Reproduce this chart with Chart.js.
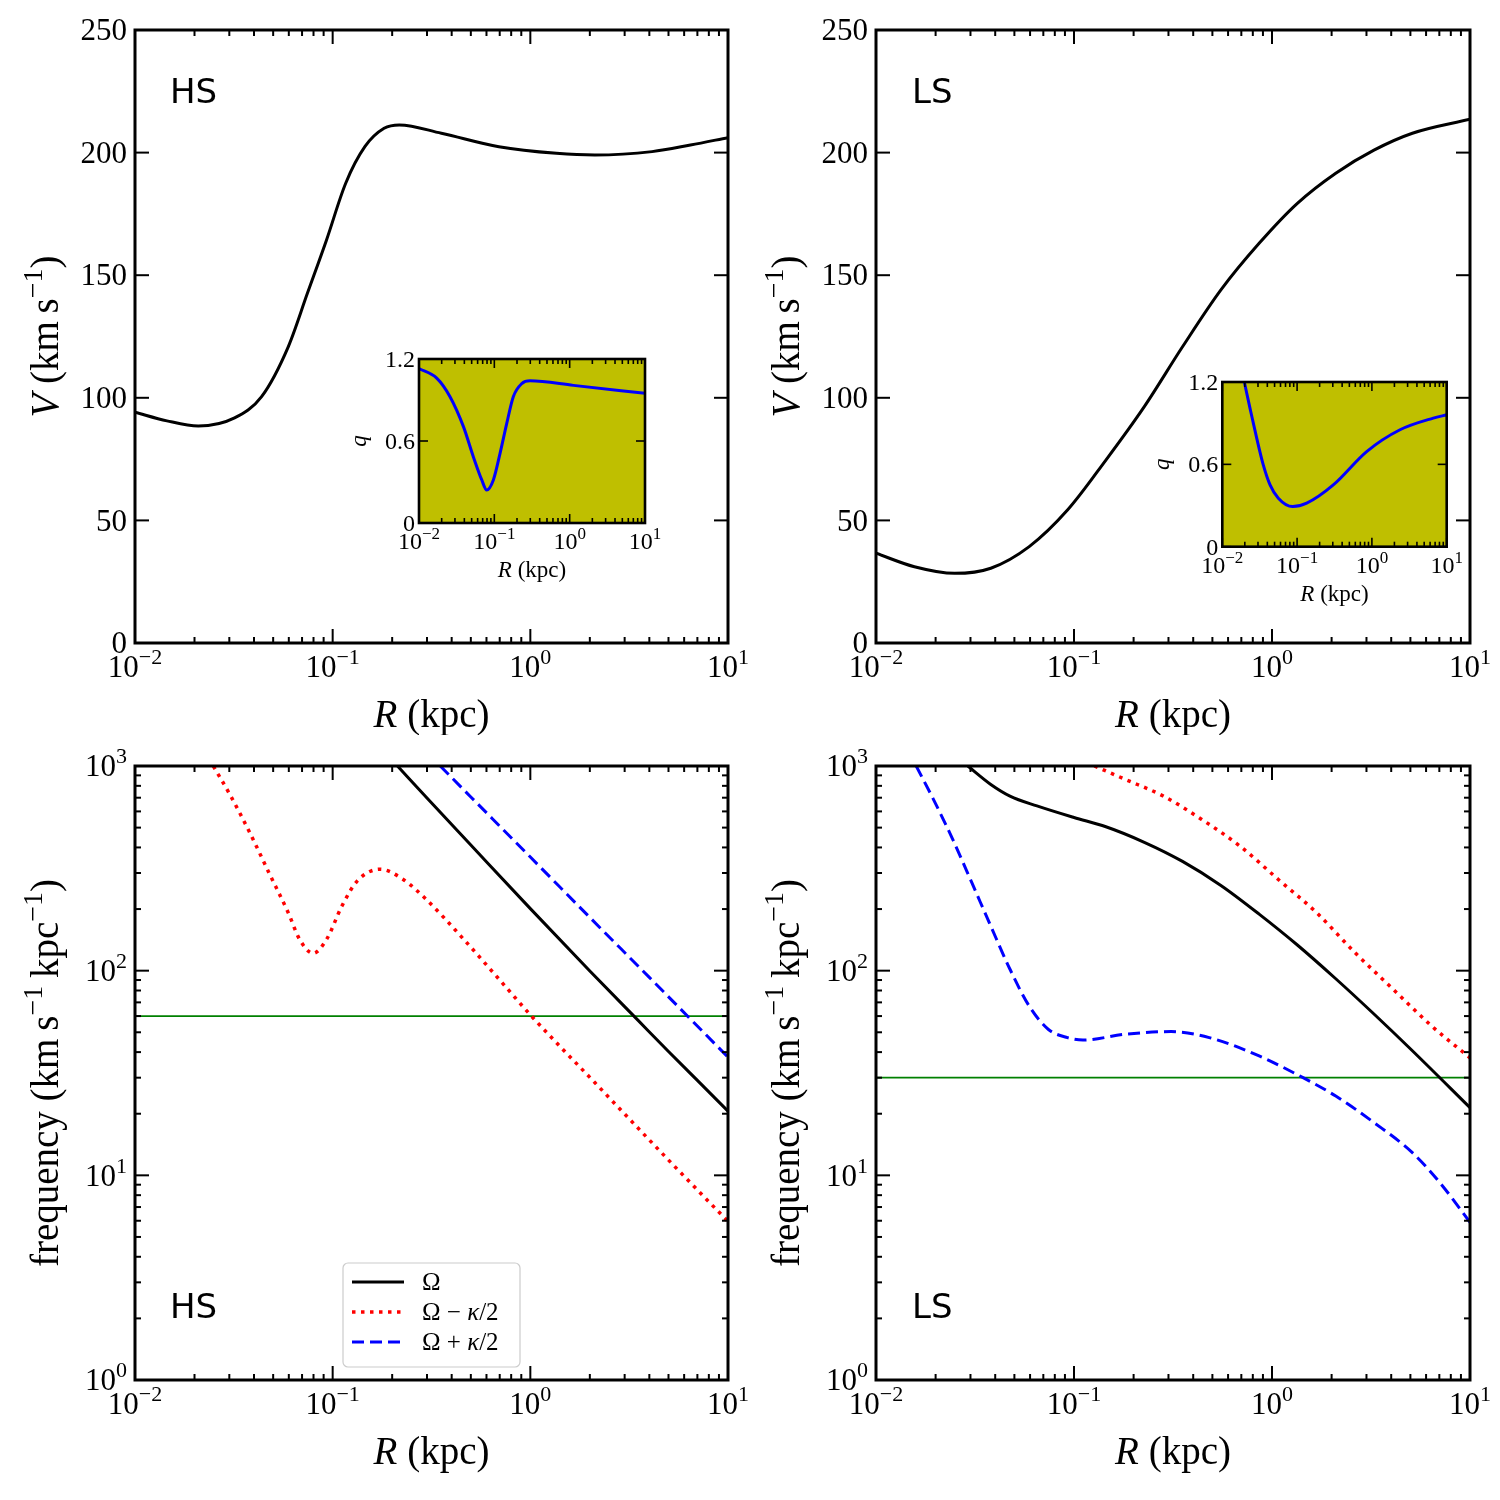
<!DOCTYPE html>
<html><head><meta charset="utf-8">
<script src="https://cdn.jsdelivr.net/npm/chart.js@4/dist/chart.umd.min.js"></script>
<style>
html,body{margin:0;padding:0;background:#fff;}
#wrap{position:relative;width:1500px;height:1500px;overflow:hidden;background:#fff;}
canvas{position:absolute;}
</style></head><body>
<div id="wrap">
<canvas id="c1" width="760" height="735" style="left:0px;top:0px"></canvas>
<canvas id="c2" width="740" height="735" style="left:760px;top:0px"></canvas>
<canvas id="c3" width="760" height="765" style="left:0px;top:735px"></canvas>
<canvas id="c4" width="740" height="765" style="left:760px;top:735px"></canvas>
<canvas id="i1" width="330" height="250" style="left:350px;top:345px"></canvas>
<canvas id="i2" width="330" height="250" style="left:1152px;top:368px"></canvas>
</div>
<script>
// ---------------- tick labels ('^' marks a superscript) ----------------
const R_TICKS = [0.01, 0.1, 1, 10];
const R_TICK_LABELS = ['10^\u22122', '10^\u22121', '10^0', '10^1'];
const V_TICKS = [0, 50, 100, 150, 200, 250];
const V_TICK_LABELS = ['0', '50', '100', '150', '200', '250'];
const F_TICKS = [1, 10, 100, 1000];
const F_TICK_LABELS = ['10^0', '10^1', '10^2', '10^3'];
const Q_TICKS = [0, 0.6, 1.2];
const Q_TICK_LABELS = ['0', '0.6', '1.2'];
const PANEL_LABELS = ['HS', 'LS'];

// ---------------- HS rotation curve ----------------
const R_HS_V = [0.01, 0.0145, 0.0209, 0.0319, 0.0437, 0.0596, 0.0745, 0.0931, 0.1164, 0.1455, 0.182, 0.2173, 0.3548, 0.6934, 1.355, 2.118, 4.13, 6.457, 10];
const V_HS   = [94.1, 90.6, 88.5, 91.8, 100.5, 120.8, 142.6, 164.4, 187.5, 202.4, 209.9, 211.3, 207.9, 202.4, 199.7, 199.0, 200.4, 203.1, 206.1];
// ---------------- LS rotation curve ----------------
const R_LS_V = [0.01, 0.01563, 0.02495, 0.038, 0.0594, 0.0927, 0.1449, 0.2265, 0.3532, 0.552, 0.861, 1.343, 2.099, 3.273, 5.117, 10];
const V_LS   = [36.6, 31.1, 28.4, 30.5, 39.3, 54.2, 74.6, 96.4, 120.8, 144, 163, 179.3, 191.6, 201, 207.9, 213.6];

// ---------------- HS inset q ----------------
const R_HS_Q = [0.01, 0.01718, 0.0258, 0.0389, 0.0526, 0.0681, 0.0793, 0.0971, 0.1191, 0.1462, 0.1786, 0.2312, 0.2979, 1.122, 10];
const Q_HS   = [1.13, 1.06, 0.924, 0.705, 0.485, 0.315, 0.241, 0.315, 0.51, 0.729, 0.924, 1.02, 1.04, 1.007, 0.949];
// ---------------- LS inset q ----------------
const R_LS_Q = [0.0197, 0.02344, 0.02884, 0.0353, 0.0435, 0.0561, 0.0873, 0.1343, 0.3048, 0.851, 2.377, 6.622, 10];
const Q_LS   = [1.2, 1.01, 0.791, 0.596, 0.45, 0.353, 0.292, 0.317, 0.45, 0.693, 0.852, 0.937, 0.961];

// ---------------- HS frequencies ----------------
const R_HS_OM = [0.2128, 0.3, 0.5, 1, 2, 3.5, 5, 7, 10];
const OM_HS   = [1000, 697, 411, 201, 99.6, 57.3, 40.3, 29.1, 20.6];
const R_HS_LO = [0.0249, 0.0305, 0.0381, 0.0476, 0.0596, 0.0681, 0.0796, 0.0931, 0.1114, 0.133, 0.1738, 0.2275, 0.2972, 0.4436, 0.6934, 1.005, 2.118, 5.164, 10];
const LO_HS   = [1000, 713, 472, 301, 192, 142, 121.6, 142, 207, 274, 313, 279, 223, 148, 91, 60.5, 28.4, 11.5, 5.95];
const R_HS_HI = [0.35, 0.5, 1, 2, 4, 10];
const HI_HS   = [1000, 706, 359, 182, 92.7, 37.8];
// ---------------- LS frequencies ----------------
const R_LS_OM = [0.0291, 0.038, 0.0475, 0.065, 0.1, 0.1449, 0.2265, 0.3532, 0.552, 0.861, 1.343, 2.099, 3.273, 5.117, 10];
const OM_LS   = [1000, 813, 713, 638, 560, 505, 424, 342, 261, 189, 133.5, 91.3, 61.4, 40.6, 21.4];
const R_LS_LO = [0.1268, 0.1811, 0.2825, 0.4416, 0.6887, 1.076, 1.679, 2.624, 4.093, 6.397, 10];
const LO_LS   = [1000, 861, 713, 548, 406, 279, 192, 122.5, 81.1, 53.7, 37.5];
const R_LS_HI = [0.01596, 0.0195, 0.02438, 0.03048, 0.038, 0.0475, 0.0594, 0.0743, 0.0927, 0.1109, 0.1811, 0.309, 0.482, 0.861, 1.435, 2.099, 3.273, 5.117, 7.05, 10];
const HI_LS   = [1000, 687, 439, 269, 165, 101.6, 67.1, 51.6, 47.1, 45.8, 48.9, 50.4, 47.1, 38.3, 30, 24.4, 18.1, 12.9, 9.2, 5.9];
// ---------------- pattern speed lines ----------------
const R_FLAT = [0.01, 10];
const FLAT_HS = [60, 60];
const FLAT_LS = [30, 30];

const SERIF = '"Liberation Serif", "DejaVu Serif", serif';
const SANS = '"DejaVu Sans", sans-serif';

function parseLabel(str) {
  const i = String(str).indexOf('^');
  if (i < 0) return [[String(str), 'n']];
  return [[str.slice(0, i), 'n'], [str.slice(i + 1), 's']];
}

// segs: [text, style]; style 'n' normal, 'i' italic, 's' superscript
function drawRich(ctx, segs, x, y, size, rot, align) {
  ctx.save();
  ctx.translate(x, y);
  ctx.rotate(rot || 0);
  ctx.fillStyle = '#000';
  ctx.textBaseline = 'alphabetic';
  ctx.textAlign = 'left';
  const f = st => (st === 'i' ? 'italic ' : '') + (st === 's' ? Math.round(size * 0.72) : size) + 'px ' + SERIF;
  let w = 0;
  for (const [t, st] of segs) { ctx.font = f(st); w += ctx.measureText(t).width; }
  let cx = align === 'right' ? -w : (align === 'left' ? 0 : -w / 2);
  for (const [t, st] of segs) {
    ctx.font = f(st);
    ctx.fillText(t, cx, st === 's' ? -size * 0.42 : 0);
    cx += ctx.measureText(t).width;
  }
  ctx.restore();
}

function logVals(min, max) {
  const out = [];
  for (let d = Math.floor(Math.log10(min)); d <= Math.ceil(Math.log10(max)); d++) {
    for (let m = 1; m <= 9; m++) {
      const v = m * Math.pow(10, d);
      if (v >= min * 0.999 && v <= max * 1.001) out.push([v, m === 1]);
    }
  }
  return out;
}

const mplPlugin = {
  id: 'mpl',
  beforeDatasetsDraw(chart, args, o) {
    if (o.bg) {
      const a = chart.chartArea, ctx = chart.ctx;
      ctx.save(); ctx.fillStyle = o.bg;
      ctx.fillRect(a.left, a.top, a.right - a.left, a.bottom - a.top);
      ctx.restore();
    }
  },
  afterDatasetsDraw(chart, args, o) {
    const ctx = chart.ctx, a = chart.chartArea, xs = chart.scales.x, ys = chart.scales.y;
    ctx.save();
    ctx.strokeStyle = '#000'; ctx.lineWidth = o.tickWidth; ctx.lineCap = 'butt';
    const seg = (x1, y1, x2, y2) => { ctx.beginPath(); ctx.moveTo(x1, y1); ctx.lineTo(x2, y2); ctx.stroke(); };
    const xv = xs.type === 'logarithmic' ? logVals(xs.min, xs.max) : xs.ticks.map(t => [t.value, true]);
    for (const [v, maj] of xv) {
      const p = xs.getPixelForValue(v), L = maj ? o.major : o.minor;
      seg(p, a.bottom, p, a.bottom - L); seg(p, a.top, p, a.top + L);
    }
    const yv = ys.type === 'logarithmic' ? logVals(ys.min, ys.max) : ys.ticks.map(t => [t.value, true]);
    for (const [v, maj] of yv) {
      const p = ys.getPixelForValue(v), L = maj ? o.major : o.minor;
      seg(a.left, p, a.left + L, p); seg(a.right, p, a.right - L, p);
    }
    ctx.lineWidth = o.frameWidth;
    ctx.strokeRect(a.left, a.top, a.right - a.left, a.bottom - a.top);
    ctx.restore();

    // legend
    if (o.legend) {
      const L = o.legend;
      const bx = a.left + L.left, by = a.bottom - L.bottom - L.h;
      ctx.save();
      ctx.beginPath();
      ctx.roundRect(bx, by, L.w, L.h, 5);
      ctx.fillStyle = 'rgba(255,255,255,0.8)'; ctx.fill();
      ctx.strokeStyle = '#cccccc'; ctx.lineWidth = 1.2; ctx.stroke();
      L.items.forEach((idx, k) => {
        const d = chart.data.datasets[idx];
        const ry = by + L.row0 + k * L.rowStep;
        ctx.save();
        ctx.strokeStyle = d.borderColor; ctx.lineWidth = d.borderWidth;
        ctx.setLineDash(d.borderDash || []); ctx.lineCap = 'butt';
        ctx.beginPath(); ctx.moveTo(bx + 9, ry); ctx.lineTo(bx + 61, ry); ctx.stroke();
        ctx.restore();
        const parts = d.label.split('\u03BA');
        const segs = [];
        parts.forEach((p, j) => { if (j > 0) segs.push(['\u03BA', 'i']); if (p) segs.push([p, 'n']); });
        drawRich(ctx, segs, bx + 79, ry + 8, L.size, 0, 'left');
      });
      ctx.restore();
    }
  },
  afterDraw(chart, args, o) {
    const ctx = chart.ctx, a = chart.chartArea, xs = chart.scales.x, ys = chart.scales.y;
    // tick labels (from the scales' own tick objects)
    xs.ticks.forEach((t, i) => {
      const lab = t.label !== undefined && t.label !== '' ? t.label : o.xLabels[i];
      drawRich(ctx, parseLabel(lab), xs.getPixelForValue(t.value), a.bottom + o.xLabBase, o.tickSize, 0, 'center');
    });
    ys.ticks.forEach((t, i) => {
      const lab = t.label !== undefined && t.label !== '' ? t.label : o.yLabels[i];
      drawRich(ctx, parseLabel(lab), a.left - o.yLabGap, ys.getPixelForValue(t.value) + o.tickSize * 0.33, o.tickSize, 0, 'right');
    });
    if (o.xTitle) drawRich(ctx, o.xTitle, (a.left + a.right) / 2, a.bottom + o.xOff, o.titleSize, 0);
    if (o.yTitle) drawRich(ctx, o.yTitle, a.left - o.yOff, (a.top + a.bottom) / 2, o.titleSize, -Math.PI / 2);
    if (o.panel) {
      ctx.save();
      ctx.fillStyle = '#000'; ctx.font = o.panelSize + 'px ' + SANS;
      ctx.textBaseline = 'alphabetic'; ctx.textAlign = 'left';
      const y = o.panelFromBottom ? a.bottom - o.panelY : a.top + o.panelY;
      ctx.fillText(o.panel, a.left + o.panelX, y);
      ctx.restore();
    }
  }
};

function ds(label, xs, ys, color, width, dash, smooth) {
  return {
    label, data: xs.map((x, i) => ({ x, y: ys[i] })),
    borderColor: color, backgroundColor: color, borderWidth: width,
    borderDash: dash || [], borderCapStyle: 'butt', pointRadius: 0, fill: false,
    cubicInterpolationMode: smooth === false ? 'default' : 'monotone', tension: 0
  };
}

function build(id, c) {
  return new Chart(document.getElementById(id), {
    type: 'line',
    data: { datasets: c.datasets },
    options: {
      responsive: false, animation: false, devicePixelRatio: 1, events: [],
      layout: { autoPadding: false, padding: { top: c.padTop, right: c.padRight, left: 0, bottom: 0 } },
      scales: {
        x: {
          type: 'logarithmic', min: 0.01, max: 10, position: 'bottom',
          afterBuildTicks: s => { s.ticks = R_TICKS.map(v => ({ value: v })); },
          afterFit: s => { s.height = c.xH; },
          ticks: { display: false, callback: (v, i) => R_TICK_LABELS[i], autoSkip: false, maxRotation: 0, minRotation: 0 },
          grid: { display: false, drawTicks: false }, border: { display: false }
        },
        y: {
          type: c.yType, min: c.yMin, max: c.yMax, position: 'left',
          afterBuildTicks: s => { s.ticks = c.yTicks.map(v => ({ value: v })); },
          afterFit: s => { s.width = c.yW; },
          ticks: { display: false, callback: (v, i) => c.yLabels[i], autoSkip: false },
          grid: { display: false, drawTicks: false }, border: { display: false }
        }
      },
      plugins: { legend: { display: false }, tooltip: { enabled: false },
                 mpl: Object.assign({ xLabels: R_TICK_LABELS, yLabels: c.yLabels }, c.mpl) }
    },
    plugins: [mplPlugin]
  });
}

const X_TITLE = [['R', 'i'], [' (kpc)', 'n']];
const V_TITLE = [['V', 'i'], [' (km\u2009s', 'n'], ['\u22121', 's'], [')', 'n']];
const F_TITLE = [['frequency (km\u2009s', 'n'], ['\u22121', 's'], ['\u2009kpc', 'n'], ['\u22121', 's'], [')', 'n']];
const Q_TITLE = [['q', 'i']];

const mainAx = { tickWidth: 2, frameWidth: 3, major: 14, minor: 6, titleSize: 39, xOff: 84, yOff: 77,
                 xTitle: X_TITLE, panelSize: 34, panelX: 35, tickSize: 31, xLabBase: 34, yLabGap: 8 };
const insetAx = { tickWidth: 1.6, frameWidth: 2.6, major: 9, minor: 5, titleSize: 23, xOff: 54, yOff: 53,
                  xTitle: X_TITLE, yTitle: Q_TITLE, bg: '#bfbf00', tickSize: 24, xLabBase: 26, yLabGap: 4 };

// Top-left: HS rotation curve
build('c1', {
  datasets: [ds('V', R_HS_V, V_HS, '#000000', 3)],
  padTop: 30, padRight: 32, xH: 92, yW: 135,
  yType: 'linear', yMin: 0, yMax: 250, yTicks: V_TICKS, yLabels: V_TICK_LABELS,
  mpl: Object.assign({}, mainAx, { yTitle: V_TITLE, panel: PANEL_LABELS[0], panelY: 73 })
});
// Top-right: LS rotation curve
build('c2', {
  datasets: [ds('V', R_LS_V, V_LS, '#000000', 3)],
  padTop: 30, padRight: 30, xH: 92, yW: 116,
  yType: 'linear', yMin: 0, yMax: 250, yTicks: V_TICKS, yLabels: V_TICK_LABELS,
  mpl: Object.assign({}, mainAx, { yTitle: V_TITLE, panel: PANEL_LABELS[1], panelY: 73, panelX: 36 })
});
// Bottom-left: HS frequencies
build('c3', {
  datasets: [
    ds('\u03A9', R_HS_OM, OM_HS, '#000000', 3),
    ds('\u03A9\u2005\u2212\u2005\u03BA/2', R_HS_LO, LO_HS, '#ff0000', 3.5, [3.5, 5.5]),
    ds('\u03A9\u2005+\u2005\u03BA/2', R_HS_HI, HI_HS, '#0000ff', 3, [12, 6]),
    ds('pattern', R_FLAT, FLAT_HS, '#008000', 1.8, [], false)
  ],
  padTop: 31, padRight: 32, xH: 120, yW: 135,
  yType: 'logarithmic', yMin: 1, yMax: 1000, yTicks: F_TICKS, yLabels: F_TICK_LABELS,
  mpl: Object.assign({}, mainAx, { yTitle: F_TITLE, panel: PANEL_LABELS[0], panelY: 62, panelFromBottom: true,
    legend: { left: 208, bottom: 13, w: 177, h: 104, row0: 19, rowStep: 30, size: 25, items: [0, 1, 2] } })
});
// Bottom-right: LS frequencies
build('c4', {
  datasets: [
    ds('\u03A9', R_LS_OM, OM_LS, '#000000', 3),
    ds('\u03A9\u2005\u2212\u2005\u03BA/2', R_LS_LO, LO_LS, '#ff0000', 3.5, [3.5, 5.5]),
    ds('\u03A9\u2005+\u2005\u03BA/2', R_LS_HI, HI_LS, '#0000ff', 3, [12, 6]),
    ds('pattern', R_FLAT, FLAT_LS, '#008000', 1.8, [], false)
  ],
  padTop: 31, padRight: 30, xH: 120, yW: 116,
  yType: 'logarithmic', yMin: 1, yMax: 1000, yTicks: F_TICKS, yLabels: F_TICK_LABELS,
  mpl: Object.assign({}, mainAx, { yTitle: F_TITLE, panel: PANEL_LABELS[1], panelY: 62, panelFromBottom: true, panelX: 36 })
});
// Insets
build('i1', {
  datasets: [ds('q', R_HS_Q, Q_HS, '#0000ff', 3)],
  padTop: 14, padRight: 35, xH: 72, yW: 69,
  yType: 'linear', yMin: 0, yMax: 1.2, yTicks: Q_TICKS, yLabels: Q_TICK_LABELS,
  mpl: insetAx
});
build('i2', {
  datasets: [ds('q', R_LS_Q, Q_LS, '#0000ff', 3)],
  padTop: 14, padRight: 35.3, xH: 71.3, yW: 70.3,
  yType: 'linear', yMin: 0, yMax: 1.2, yTicks: Q_TICKS, yLabels: Q_TICK_LABELS,
  mpl: insetAx
});
</script>
</body></html>
